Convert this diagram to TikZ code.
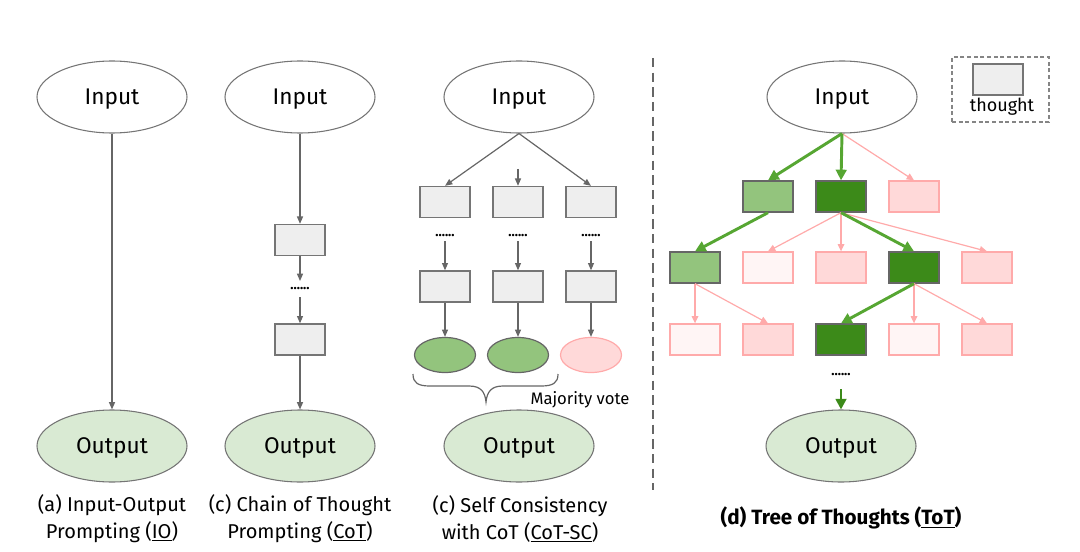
\documentclass[tikz,border=0pt]{standalone}
\usepackage{fontspec}
\setmainfont{Fira Sans}
\usetikzlibrary{shapes.geometric,arrows.meta}
\definecolor{boxgray}{HTML}{EEEEEE}
\definecolor{edgegray}{HTML}{666666}
\definecolor{outgreen}{HTML}{D9EAD3}
\definecolor{lgreen}{HTML}{93C47D}
\definecolor{dgreen}{HTML}{3C8A19}
\definecolor{pinkfill}{HTML}{FFD9D9}
\definecolor{pinklight}{HTML}{FFF5F5}
\definecolor{pinkline}{HTML}{FFAAAA}
\definecolor{arrgreen}{HTML}{56A632}
\tikzset{
  ell/.style={ellipse, draw=edgegray!90, line width=0.8pt, minimum width=112.5pt, minimum height=54pt, inner sep=0pt, text depth=1pt, font=\fontsize{17}{19}\selectfont},
  inp/.style={ell, fill=white},
  outp/.style={ell, fill=outgreen},
  thbox/.style={rectangle, minimum width=37.5pt, minimum height=23.25pt, inner sep=0pt, line width=1pt},
  gbox/.style={thbox, draw=edgegray!90, fill=boxgray},
  lgbox/.style={thbox, draw=edgegray, fill=lgreen},
  dgbox/.style={thbox, draw=edgegray, fill=dgreen},
  pbox/.style={thbox, draw=pinkline, fill=pinkfill},
  plbox/.style={thbox, draw=pinkline, fill=pinklight},
  smell/.style={ellipse, minimum width=45.75pt, minimum height=26.25pt, inner sep=0pt, line width=0.9pt},
  gell/.style={smell, draw=edgegray, fill=lgreen},
  pell/.style={smell, draw=pinkline, fill=pinkfill},
  dotstext/.style={inner sep=0pt, font=\bfseries\fontsize{10}{12}\selectfont},
  grayarr/.style={draw=edgegray, line width=0.9pt, -{Triangle[length=5.5pt,width=4.5pt]}},
  greenarr/.style={draw=arrgreen, line width=2.2pt, -{Triangle[length=8pt,width=8pt]}},
  dgreenarr/.style={draw=dgreen, line width=2.2pt, -{Triangle[length=8pt,width=8pt]}},
  pinkarr/.style={draw=pinkline, line width=0.9pt, -{Triangle[length=5.5pt,width=5pt]}},
  caption/.style={align=center, inner sep=0pt, font=\fontsize{15}{20.25}\selectfont},
}
\begin{document}
\begin{tikzpicture}[x=0.75pt, y=-0.75pt]
\useasboundingbox (0,0) rectangle (1080,552);

% ---------- (a) IO ----------
\node[inp] (io-in) at (112,97) {Input};
\node[outp] (io-out) at (112,446) {Output};
\draw[grayarr] (io-in.south) -- (io-out.north);
\node[caption] (io-cap) at (112,518.5) {(a) Input-Output\\Prompting (\underline{IO})};

% ---------- (b) CoT ----------
\node[inp] (cot-in) at (300,97) {Input};
\node[gbox] (cot-b1) at (300,240) {};
\node[dotstext] (cot-dots) at (300,289) {......};
\node[gbox] (cot-b2) at (300,339.5) {};
\node[outp] (cot-out) at (300,446) {Output};
\coordinate (cot-d1) at (300,281);
\coordinate (cot-d2) at (300,297);
\draw[grayarr] (cot-in.south) -- (cot-b1.north);
\draw[grayarr] (cot-b1.south) -- (cot-d1);
\draw[grayarr] (cot-d2) -- (cot-b2.north);
\draw[grayarr] (cot-b2.south) -- (cot-out.north);
\node[caption] (cot-cap) at (300,518.5) {(c) Chain of Thought\\Prompting (\underline{CoT})};

% ---------- (c) CoT-SC ----------
\node[inp] (sc-in) at (519,97) {Input};
\foreach \c/\x in {a/445,b/518,c/591}{
  \node[gbox] (sc-\c1) at (\x,202) {};
  \node[dotstext] (sc-\c d) at (\x,236) {......};
  \coordinate (sc-\c s) at (\x,241);
  \node[gbox] (sc-\c2) at (\x,286.5) {};
  \draw[grayarr] (sc-\c s) -- (sc-\c2.north);
}
\coordinate (sc-mid) at (518,169);
\draw[grayarr] (sc-in.south) -- (sc-a1.north);
\draw[grayarr] (sc-mid) -- (sc-b1.north);
\draw[grayarr] (sc-in.south) -- (sc-c1.north);
\node[gell] (sc-ea) at (445,355) {};
\node[gell] (sc-eb) at (518,355) {};
\node[pell] (sc-ec) at (591,355) {};
\draw[grayarr] (sc-a2.south) -- (sc-ea.north);
\draw[grayarr] (sc-b2.south) -- (sc-eb.north);
\draw[grayarr] (sc-c2.south) -- (sc-ec.north);
\draw[edgegray, line width=0.9pt] (413,374) .. controls (413,383) and (418,386) .. (430,386) -- (469,386) .. controls (481,386) and (485,392) .. (486,402) .. controls (487,392) and (491,386) .. (503,386) -- (541,386) .. controls (553,386) and (558,383) .. (558,374);
\node[inner sep=0pt, font=\fontsize{12.5}{14}\selectfont] (sc-vote) at (580,400) {Majority vote};
\node[outp] (sc-out) at (519,446) {Output};
\node[caption] (sc-cap) at (520,518.5) {(c) Self Consistency\\with CoT (\underline{CoT-SC})};

% ---------- separator ----------
\draw[edgegray, line width=2.2pt, dash pattern=on 7pt off 4pt] (653,58) -- (653,490);

% ---------- legend ----------
\node[draw=edgegray!80, dash pattern=on 3pt off 2pt, line width=0.8pt, minimum width=72.75pt, minimum height=48.75pt, inner sep=0pt] (legend) at (1000.5,89.5) {};
\node[gbox] (leg-box) at (998,79.5) {};
\node[inner sep=0pt, font=\fontsize{13.5}{14}\selectfont] (leg-text) at (1002,107) {thought};

% ---------- (d) ToT ----------
\node[inp] (tot-in) at (842,97) {Input};
\node[lgbox] (t11) at (768,196.5) {};
\node[dgbox] (t12) at (841,196.5) {};
\node[pbox]  (t13) at (914,196.5) {};

\node[lgbox] (t21) at (695,267.5) {};
\node[plbox] (t22) at (768,267.5) {};
\node[pbox]  (t23) at (841,267.5) {};
\node[dgbox] (t24) at (914,267.5) {};
\node[pbox]  (t25) at (987,267.5) {};

\node[plbox] (t31) at (695,339.5) {};
\node[pbox]  (t32) at (768,339.5) {};
\node[dgbox] (t33) at (841,339.5) {};
\node[plbox] (t34) at (914,339.5) {};
\node[pbox]  (t35) at (987,339.5) {};

\draw[pinkarr] (tot-in.south) -- (t13.north);
\draw[greenarr] (tot-in.south) -- (t11.north);
\draw[greenarr] (tot-in.south) -- (t12.north);

\draw[greenarr] (t11.south) -- (t21.north);
\draw[pinkarr] (t12.south) -- (t22.north);
\draw[pinkarr] (t12.south) -- (t23.north);
\draw[pinkarr] (t12.south) -- (t25.north);
\draw[greenarr] (t12.south) -- (t24.north);

\draw[pinkarr] (t21.south) -- (t31.north);
\draw[pinkarr] (t21.south) -- (t32.north);
\draw[pinkarr] (t24.south) -- (t34.north);
\draw[pinkarr] (t24.south) -- (t35.north);
\draw[greenarr] (t24.south) -- (t33.north);

\node[dotstext] (tot-dots) at (841,375) {......};
\coordinate (tot-ds) at (841,389);
\node[outp] (tot-out) at (841,446) {Output};
\draw[dgreenarr] (tot-ds) -- (tot-out.north);
\node[inner sep=0pt, font=\bfseries\fontsize{15.5}{18}\selectfont] (tot-cap) at (841,518) {(d) Tree of Thoughts (\underline{ToT})};
\end{tikzpicture}
\end{document}
